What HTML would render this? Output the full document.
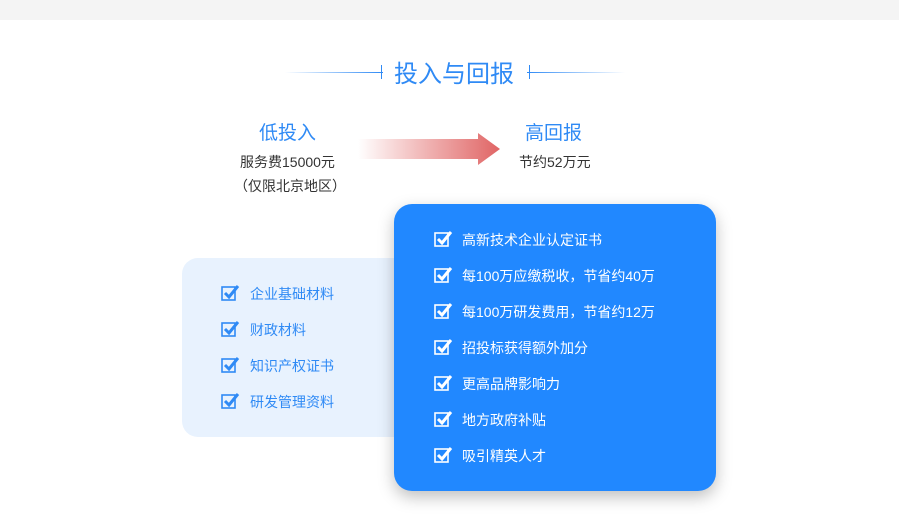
<!DOCTYPE html>
<html><head><meta charset="utf-8"><style>
body{margin:0;width:899px;height:532px;background:#fff;position:relative;overflow:hidden;font-family:"Liberation Sans","Noto Sans CJK SC",sans-serif}
.a{position:absolute;white-space:nowrap}
.top{left:0;top:0;width:899px;height:20px;background:#f4f4f4}
.lp{left:182px;top:258px;width:240px;height:179px;background:#e8f2fe;border-radius:16px}
.rp{left:394px;top:204px;width:322px;height:287px;background:#2188ff;border-radius:18px;box-shadow:0 6px 16px rgba(0,0,0,.25)}
.lt{font-size:14px;color:#2f8af5}
.rt{font-size:14px;color:#fff}
</style></head><body>
<div class="a top"></div>
<div class="a" style="left:285px;top:72px;width:98px;height:1px;background:linear-gradient(90deg,rgba(47,138,245,0),#2f8af5)"></div>
<div class="a" style="left:381px;top:65px;width:1px;height:14px;background:#2f8af5"></div>
<div class="a" style="left:529px;top:65px;width:1px;height:14px;background:#2f8af5"></div>
<div class="a" style="left:527px;top:72px;width:98px;height:1px;background:linear-gradient(90deg,#2f8af5,rgba(47,138,245,0))"></div>
<div class="a" style="left:394px;top:54px;font-size:24px;color:#2f8af5">投入与回报</div>
<div class="a" style="left:259px;top:118px;font-size:19px;color:#2f8af5">低投入</div>
<div class="a" style="left:240px;top:152px;font-size:14px;color:#333">服务费15000元</div>
<div class="a" style="left:234px;top:176px;font-size:14px;color:#333">（仅限北京地区）</div>
<div class="a" style="left:525px;top:118px;font-size:19px;color:#2f8af5">高回报</div>
<div class="a" style="left:519px;top:152px;font-size:14px;color:#333">节约52万元</div>
<svg class="a" style="left:358px;top:133px" width="142" height="32"><defs><linearGradient id="g"><stop offset="0" stop-color="#e06060" stop-opacity="0"/><stop offset="1" stop-color="#e06565"/></linearGradient></defs><path d="M0 6H120V0L142 16L120 32V26H0Z" fill="url(#g)"/></svg>
<div class="a lp"></div>
<div class="a rp"></div>
<svg width="0" height="0" style="position:absolute"><defs><g id="c"><rect x="1" y="3" width="13" height="13" fill="none" stroke-width="1.6"/><path d="M4 9l4 4 9-11" fill="none" stroke-width="3"/></g></defs></svg>
<svg class="a" style="left:221px;top:284px" width="20" height="130" stroke="#2f8af5"><use href="#c"/><use href="#c" y="36"/><use href="#c" y="72"/><use href="#c" y="108"/></svg>
<div class="a lt" style="left:250px;top:284px">企业基础材料</div>
<div class="a lt" style="left:250px;top:320px">财政材料</div>
<div class="a lt" style="left:250px;top:356px">知识产权证书</div>
<div class="a lt" style="left:250px;top:392px">研发管理资料</div>
<svg class="a" style="left:434px;top:230px" width="20" height="240" stroke="#fff"><use href="#c"/><use href="#c" y="36"/><use href="#c" y="72"/><use href="#c" y="108"/><use href="#c" y="144"/><use href="#c" y="180"/><use href="#c" y="216"/></svg>
<div class="a rt" style="left:462px;top:230px">高新技术企业认定证书</div>
<div class="a rt" style="left:462px;top:266px">每100万应缴税收，节省约40万</div>
<div class="a rt" style="left:462px;top:302px">每100万研发费用，节省约12万</div>
<div class="a rt" style="left:462px;top:338px">招投标获得额外加分</div>
<div class="a rt" style="left:462px;top:374px">更高品牌影响力</div>
<div class="a rt" style="left:462px;top:410px">地方政府补贴</div>
<div class="a rt" style="left:462px;top:446px">吸引精英人才</div>
</body></html>
